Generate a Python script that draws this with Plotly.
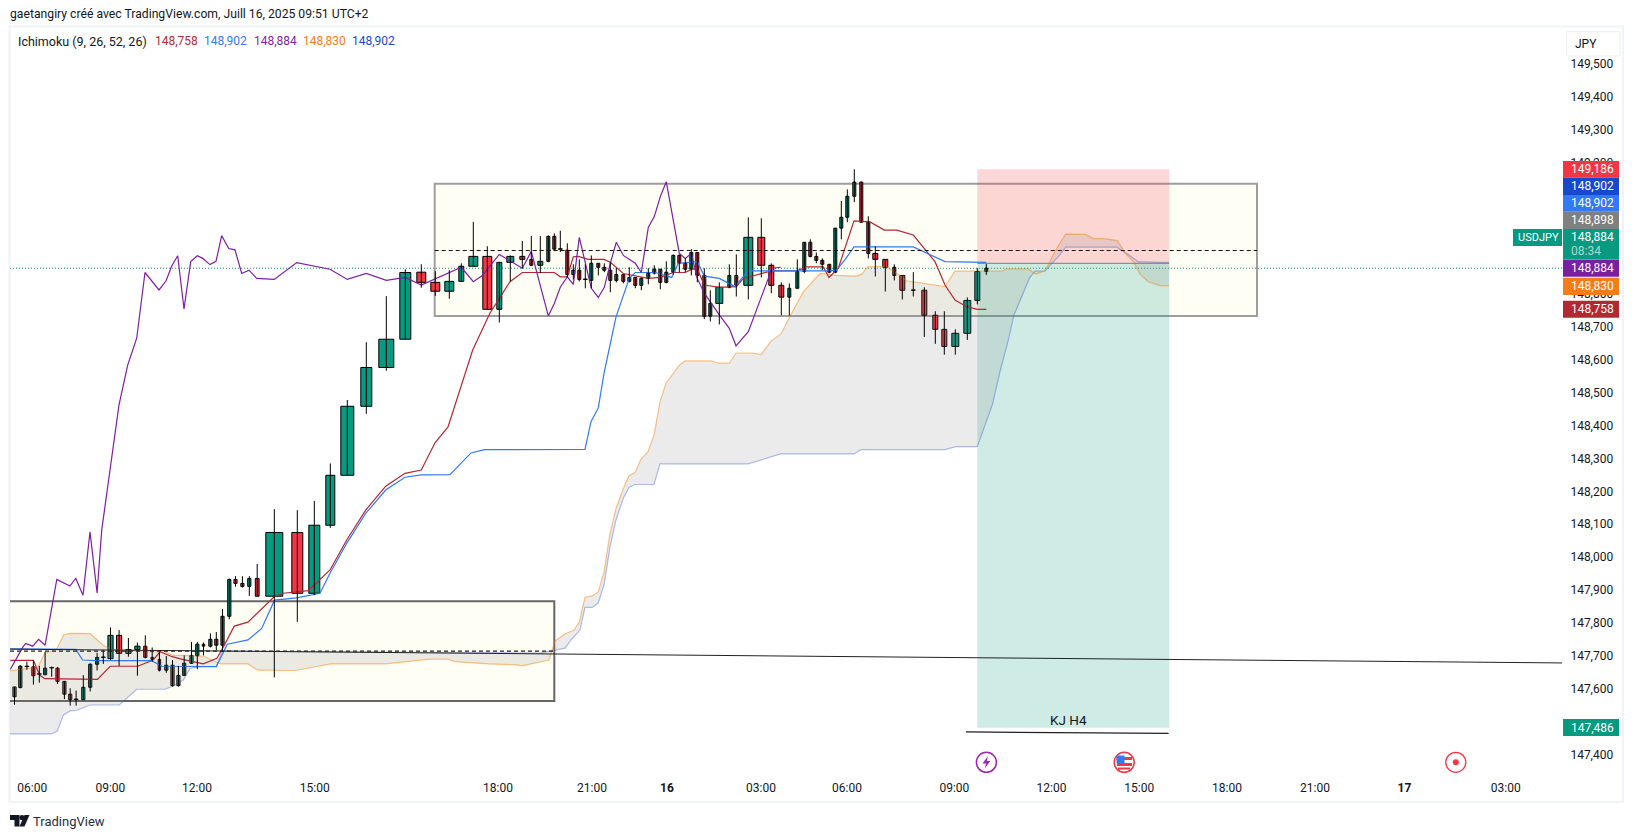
import plotly.graph_objects as go

FONT = 'Roboto'
GREEN = '#089981'
RED = '#f23645'

# 149,100 to 148,900 and 147,500 sit under the price tags in the picture, so they are left out
price_ticks = [149.5, 149.4, 149.3, 149.2, 148.8, 148.7, 148.6, 148.5, 148.4,
               148.3, 148.2, 148.1, 148.0, 147.9, 147.8, 147.7, 147.6, 147.4]
price_labels = ['149,500', '149,400', '149,300', '149,200', '148,800',
                '148,700', '148,600', '148,500', '148,400', '148,300', '148,200', '148,100', '148,000',
                '147,900', '147,800', '147,700', '147,600', '147,400']
time_ticks = [32.3, 110.4, 197, 314.7, 498, 592, 667, 761, 847, 954.4, 1051.5, 1139.3, 1227, 1315, 1404.5, 1505.7]
time_labels = ['06:00', '09:00', '12:00', '15:00', '18:00', '21:00', '<b>16</b>', '03:00', '06:00', '09:00',
               '12:00', '15:00', '18:00', '21:00', '<b>17</b>', '03:00']

# volume candles, so every bar has its own position and width
candle_x = [14.5, 20.3, 26.9, 33.4, 39.3, 45.1, 51.7, 57.5, 64.4, 70.2,
            76.1, 83.3, 90.2, 97.1, 103.3, 110.5, 119.1, 128.4, 137.4, 145.3,
            152.2, 159.4, 166.3, 172.5, 178.4, 184.2, 191.5, 197.3, 203.5, 210.4,
            216.3, 222.5, 229.3, 235.5, 242.4, 249.3, 257.2,
            274.3, 297.3, 314.3, 330.3, 347.3, 366.3, 386.3, 405.3, 421.3, 435.3,
            449.3, 461.3, 473.3, 487.3, 499.3, 510.3, 522.3, 531.3, 540.3, 548.3,
            554.3, 560.3, 567.3, 573.3, 579.3, 585.3, 591.3, 598.3, 604.3, 610.3,
            616.3, 623.3, 629.3, 635.3, 641.3, 648.3, 654.3, 660.3, 666.3, 673.3,
            679.3, 685.3, 691.3, 697.3, 704.3, 710.3, 719.3, 729.3, 736.3, 748.3,
            761.3, 771.3, 781.3, 789.3, 797.3, 804.3, 810.3, 816.3, 822.3, 829.3,
            835.3, 841.3, 847.3, 854.3, 861.3, 868.3, 875.3, 885.3, 894.3, 902.3,
            913.3, 924.3, 935.3, 944.3, 955.3, 967.3, 977.3, 986.3]
candle_w = [3.2, 3.2, 4, 3.2, 4, 3.2, 4, 3.2, 3.2, 3.2,
            4, 3.2, 3.2, 3.2, 4, 5.2, 5.2, 5.2, 5.2, 3.2,
            2.5, 2.5, 3.2, 3.2, 3.2, 3.2, 3.2, 3.2, 2.5, 3.2,
            3.2, 3.2, 3.2, 3.2, 3.2, 3.2, 3.8,
            17, 11, 11, 9, 13, 11, 15, 11, 9, 9,
            9, 5, 9, 9, 5, 7, 5, 3, 5, 3,
            3, 4, 3, 3, 3, 4, 3, 3, 3, 3,
            3, 3, 3, 3, 3, 3, 3, 3, 3, 3,
            3, 3, 3, 3, 3, 3, 7, 3, 3, 9,
            7, 5, 5, 3, 3, 3, 3, 3, 3, 3,
            3, 3, 3, 3, 3, 3, 5, 5, 3, 5,
            4, 5, 5, 5, 7, 7, 5, 3]
candle_open = [147.575, 147.603, 147.667, 147.666, 147.644, 147.642, 147.663, 147.662, 147.622, 147.583,
               147.567, 147.566, 147.604, 147.674, 147.695, 147.691, 147.762, 147.707, 147.719, 147.729,
               147.695, 147.689, 147.656, 147.671, 147.609, 147.640, 147.677, 147.700, 147.735, 147.729,
               147.750, 147.732, 147.820, 147.932, 147.920, 147.911, 147.935,
               147.881, 148.075, 147.890, 148.097, 148.249, 148.459, 148.577, 148.663, 148.867, 148.836,
               148.809, 148.839, 148.885, 148.915, 148.754, 148.897, 148.915, 148.906, 148.888, 148.900,
               148.976, 148.937, 148.934, 148.860, 148.873, 148.845, 148.842, 148.894, 148.882, 148.873,
               148.842, 148.860, 148.839, 148.851, 148.827, 148.848, 148.864, 148.876, 148.836, 148.867,
               148.918, 148.894, 148.876, 148.927, 148.857, 148.733, 148.772, 148.821, 148.857, 148.827,
               148.973, 148.888, 148.827, 148.791, 148.818, 148.869, 148.958, 148.915, 148.903, 148.891,
               148.867, 149.001, 149.034, 149.098, 149.141, 149.019, 148.924, 148.906, 148.882, 148.857,
               148.812, 148.812, 148.736, 148.693, 148.641, 148.681, 148.781, 148.869]
candle_high = [147.605, 147.672, 147.682, 147.685, 147.669, 147.712, 147.667, 147.666, 147.622, 147.601,
               147.594, 147.641, 147.677, 147.709, 147.717, 147.786, 147.778, 147.754, 147.740, 147.762,
               147.725, 147.711, 147.699, 147.687, 147.669, 147.701, 147.742, 147.742, 147.740, 147.768,
               147.772, 147.842, 147.935, 147.942, 147.942, 147.942, 147.979,
               148.146, 148.143, 148.171, 148.285, 148.478, 148.654, 148.794, 148.876, 148.891, 148.870,
               148.873, 148.894, 149.020, 148.946, 148.897, 148.918, 148.962, 148.977, 148.977, 148.979,
               148.985, 148.993, 148.955, 148.891, 148.906, 148.891, 148.918, 148.894, 148.894, 148.897,
               148.879, 148.860, 148.882, 148.851, 148.851, 148.879, 148.888, 148.876, 148.900, 148.921,
               148.921, 148.909, 148.937, 148.927, 148.879, 148.812, 148.836, 148.891, 148.921, 149.034,
               149.031, 148.894, 148.836, 148.833, 148.906, 148.958, 148.967, 148.927, 148.909, 148.891,
               149.001, 149.084, 149.119, 149.180, 149.143, 149.037, 148.946, 148.906, 148.891, 148.857,
               148.867, 148.821, 148.748, 148.748, 148.693, 148.790, 148.879, 148.892]
candle_low = [147.551, 147.601, 147.657, 147.612, 147.618, 147.642, 147.636, 147.614, 147.568, 147.548,
              147.548, 147.566, 147.591, 147.655, 147.675, 147.687, 147.669, 147.697, 147.639, 147.692,
              147.682, 147.652, 147.648, 147.606, 147.606, 147.640, 147.675, 147.659, 147.701, 147.725,
              147.717, 147.712, 147.811, 147.910, 147.907, 147.882, 147.881,
              147.634, 147.803, 147.884, 148.089, 148.249, 148.436, 148.567, 148.663, 148.820, 148.795,
              148.786, 148.839, 148.885, 148.754, 148.714, 148.839, 148.879, 148.888, 148.864, 148.897,
              148.931, 148.928, 148.851, 148.845, 148.839, 148.818, 148.818, 148.857, 148.867, 148.806,
              148.836, 148.833, 148.836, 148.818, 148.812, 148.830, 148.860, 148.815, 148.833, 148.860,
              148.867, 148.867, 148.857, 148.836, 148.724, 148.717, 148.708, 148.818, 148.793, 148.784,
              148.851, 148.803, 148.736, 148.735, 148.818, 148.864, 148.912, 148.894, 148.873, 148.864,
              148.864, 148.967, 149.019, 149.080, 149.019, 148.909, 148.854, 148.808, 148.842, 148.784,
              148.793, 148.670, 148.649, 148.616, 148.616, 148.661, 148.769, 148.859]
candle_close = [147.605, 147.668, 147.668, 147.639, 147.645, 147.662, 147.664, 147.622, 147.583, 147.566,
                147.568, 147.604, 147.674, 147.695, 147.696, 147.762, 147.707, 147.719, 147.729, 147.695,
                147.689, 147.656, 147.671, 147.609, 147.640, 147.677, 147.701, 147.735, 147.729, 147.750,
                147.732, 147.820, 147.932, 147.920, 147.911, 147.935, 147.881,
                148.075, 147.890, 148.097, 148.249, 148.459, 148.577, 148.663, 148.866, 148.836, 148.809,
                148.839, 148.885, 148.915, 148.754, 148.897, 148.915, 148.906, 148.888, 148.900, 148.976,
                148.937, 148.938, 148.860, 148.873, 148.845, 148.846, 148.894, 148.882, 148.873, 148.842,
                148.860, 148.839, 148.851, 148.827, 148.848, 148.864, 148.876, 148.836, 148.867, 148.918,
                148.894, 148.876, 148.927, 148.857, 148.733, 148.772, 148.821, 148.857, 148.827, 148.973,
                148.888, 148.827, 148.791, 148.818, 148.869, 148.958, 148.915, 148.903, 148.891, 148.867,
                149.001, 149.034, 149.098, 149.141, 149.019, 148.924, 148.906, 148.882, 148.857, 148.812,
                148.813, 148.736, 148.693, 148.641, 148.681, 148.781, 148.869, 148.879]

tenkan_x = [10.3, 33.4, 39.6, 44.8, 97.5, 110.2, 137.7, 153.2, 160.1, 172.2, 182.5, 203.2, 216.9, 223.8, 234.2, 248,
            274.1, 283.3, 308.3, 330, 346.7, 365.7, 385.7, 405, 421.3, 435, 448, 472.7, 490, 510, 522.3, 554.3, 560.3,
            567.3, 573.3, 578.3, 588.3, 604, 610.3, 623.3, 648.3, 660.3, 673.3, 685.3, 691.7, 697.3, 704.3, 719.3,
            736.3, 743.3, 771.7, 796.7, 806.7, 823.3, 829, 838.3, 854, 870, 884.3, 896.7, 913.3, 935, 945, 955, 966.7,
            977.3, 986.3]
tenkan_y = [147.686, 147.686, 147.641, 147.630, 147.628, 147.668, 147.668, 147.687, 147.712, 147.697, 147.689, 147.675,
            147.692, 147.729, 147.790, 147.802, 147.879, 147.890, 147.898, 147.961, 148.052, 148.143, 148.216, 148.255,
            148.265, 148.348, 148.396, 148.630, 148.743, 148.838, 148.866, 148.866, 148.853, 148.853, 148.914, 148.915,
            148.906, 148.906, 148.897, 148.863, 148.848, 148.851, 148.866, 148.866, 148.876, 148.876, 148.828, 148.821,
            148.823, 148.848, 148.871, 148.871, 148.883, 148.883, 148.851, 148.879, 149.023, 149.020, 148.995, 148.995,
            148.980, 148.899, 148.828, 148.782, 148.762, 148.754, 148.754]

kijun_x = [10.3, 75.8, 82.6, 96.4, 151.5, 161.8, 216.3, 222, 227.3, 248, 261.7, 274.5, 296.7, 320, 330, 346.7, 365.7,
           385.7, 405, 421.3, 450, 471, 484.6, 585, 591, 598.3, 604, 616, 629.3, 635.3, 655.3, 671.7, 678.3, 697.3,
           704.3, 719.3, 735, 741.7, 748.3, 826.7, 836.7, 846.7, 854, 913.3, 935, 945, 986.3]
kijun_y = [147.721, 147.719, 147.687, 147.685, 147.685, 147.668, 147.667, 147.702, 147.735, 147.748, 147.783, 147.869,
           147.876, 147.890, 147.951, 148.042, 148.133, 148.204, 148.243, 148.250, 148.251, 148.317, 148.327, 148.328,
           148.412, 148.454, 148.559, 148.731, 148.848, 148.866, 148.866, 148.851, 148.894, 148.899, 148.855, 148.848,
           148.823, 148.848, 148.871, 148.871, 148.873, 148.912, 148.944, 148.944, 148.914, 148.899, 148.897]

chikou_x = [10.3, 23.4, 25.8, 32.7, 38.6, 45.1, 56.8, 69.9, 75.8, 83, 90, 97.1, 101.7, 119, 127.7, 136.7, 145, 159, 166,
            171.7, 177.7, 184, 190.7, 197.3, 202.7, 210, 216, 221.7, 228.7, 235, 241.7, 249, 256.7, 274.3, 296.7, 330,
            347.3, 366.3, 386.3, 405.3, 421.3, 461.3, 473.3, 482.3, 499.3, 522.3, 531.3, 548.3, 554.3, 560.3, 567.3,
            573.3, 579.3, 591.3, 598.3, 604.3, 610.3, 616.3, 623.3, 635.3, 641.3, 648.3, 654.3, 660.3, 666.3, 679.3,
            685.3, 691.3, 697.3, 704.3, 719.3, 729.3, 736, 748.3, 768.3, 771.7, 780.7]
chikou_y = [147.658, 147.729, 147.737, 147.729, 147.750, 147.732, 147.932, 147.912, 147.935, 147.884, 148.077, 147.891,
            148.082, 148.463, 148.584, 148.666, 148.866, 148.813, 148.840, 148.886, 148.917, 148.755, 148.899, 148.917,
            148.909, 148.890, 148.900, 148.978, 148.939, 148.935, 148.863, 148.873, 148.848, 148.845, 148.896, 148.876,
            148.845, 148.863, 148.842, 148.851, 148.828, 148.882, 148.838, 148.857, 148.921, 148.879, 148.930, 148.734,
            148.772, 148.821, 148.853, 148.830, 148.973, 148.818, 148.790, 148.821, 148.894, 148.958, 148.918, 148.894,
            148.866, 149.003, 149.036, 149.097, 149.142, 148.924, 148.909, 148.924, 148.848, 148.803, 148.737, 148.696,
            148.643, 148.686, 148.848, 148.879, 148.882]

span_a_x = [10.3, 37.9, 44.8, 56.8, 63.7, 69.9, 90.2, 103.3, 111.9, 151.5, 165.3, 172.2, 203.2, 220.4, 247.9, 257.6,
            296.1, 316.8, 330.6, 385.7, 427, 447.7, 454.5, 489, 516.5, 521.7, 540, 549, 555, 565, 574, 579.3, 585,
            592.3, 598.3, 604, 610, 616, 623.3, 629, 635, 641, 647.7, 654, 660, 666, 679.3, 685, 711, 719, 729.3, 736,
            751.7, 761, 771.3, 781, 790, 803.3, 820, 828.3, 835, 856.7, 861.7, 867.7, 886.7, 896.7, 906.7, 945, 955,
            1001.7, 1006.7, 1028.3, 1036, 1045, 1056.7, 1065.7, 1085, 1094, 1103.3, 1117.3, 1125, 1133.3, 1140, 1148.3,
            1160, 1169]
span_a_y = [147.654, 147.666, 147.707, 147.721, 147.763, 147.768, 147.767, 147.731, 147.719, 147.712, 147.712, 147.702,
            147.699, 147.675, 147.675, 147.656, 147.655, 147.666, 147.675, 147.675, 147.689, 147.690, 147.682, 147.675,
            147.672, 147.669, 147.680, 147.687, 147.745, 147.766, 147.778, 147.803, 147.878, 147.882, 147.895, 147.955,
            148.072, 148.148, 148.209, 148.248, 148.257, 148.298, 148.319, 148.371, 148.473, 148.529, 148.584, 148.597,
            148.597, 148.590, 148.590, 148.621, 148.621, 148.616, 148.658, 148.679, 148.733, 148.807, 148.863, 148.861,
            148.857, 148.855, 148.861, 148.883, 148.885, 148.863, 148.841, 148.823, 148.870, 148.870, 148.877, 148.877,
            148.861, 148.871, 148.939, 148.983, 148.982, 148.969, 148.969, 148.963, 148.926, 148.899, 148.861, 148.838,
            148.826, 148.825]

span_b_x = [10, 51.7, 57.3, 63.3, 70, 76.7, 90, 119.3, 136.7, 165, 173.3, 183.3, 190, 198.3, 216.7, 222, 540, 565, 571,
            580, 585, 592.3, 598.3, 604, 610, 616, 623.3, 629, 635, 654, 660, 748.3, 780.7, 854, 861, 945, 955.7, 977.3,
            992.3, 1000, 1008.3, 1014, 1029.3, 1035, 1045, 1058.3, 1065.7, 1116.7, 1126.7, 1138.3, 1160, 1169]
span_b_y = [147.462, 147.462, 147.471, 147.519, 147.532, 147.534, 147.550, 147.550, 147.598, 147.598, 147.608, 147.626,
            147.661, 147.666, 147.668, 147.714, 147.708, 147.723, 147.748, 147.778, 147.847, 147.847, 147.861, 147.915,
            148.031, 148.113, 148.179, 148.212, 148.221, 148.221, 148.284, 148.284, 148.314, 148.314, 148.327, 148.327,
            148.336, 148.336, 148.463, 148.564, 148.660, 148.737, 148.848, 148.870, 148.871, 148.914, 148.943, 148.943,
            148.924, 148.899, 148.897, 148.897]

indicator_values = ['148,758', '148,902', '148,884', '148,830', '148,902']
indicator_colors = ['#b22833', '#3179f5', '#7e1fa5', '#f57c17', '#1848cc']
indicator_pos = [155, 204, 254, 303, 352]

# pixel helpers for everything that sits outside the price scale
PLOT_L, PLOT_R, PLOT_T, PLOT_B = 10, 1562, 27, 776


def px(x):
    return (x - PLOT_L) / (PLOT_R - PLOT_L)


def py(y):
    return (PLOT_B - y) / (PLOT_B - PLOT_T)


annotations = []
shapes = []


def label(x, y, text, color='#131722', size=12, anchor='left'):
    # annotations carry a small padding of their own
    xshift = -2.5 if anchor == 'left' else 0
    annotations.append(dict(x=px(x), y=py(y), xref='paper', yref='paper', text=text, showarrow=False,
                            xanchor=anchor, yanchor='middle', xshift=xshift,
                            font=dict(family=FONT, size=size, color=color)))


def rect(x0, y0, x1, y1, fill, line='rgba(0,0,0,0)', width=0, layer='above'):
    shapes.append(dict(type='rect', xref='paper', yref='paper', x0=px(x0), x1=px(x1), y0=py(y0), y1=py(y1),
                       fillcolor=fill, line=dict(color=line, width=width), layer=layer))


def circle(cx, cy, r, fill, line='rgba(0,0,0,0)', width=0):
    shapes.append(dict(type='circle', xref='paper', yref='paper', x0=px(cx - r), x1=px(cx + r),
                       y0=py(cy + r), y1=py(cy - r), fillcolor=fill, line=dict(color=line, width=width)))


def polygon(points, fill):
    path = 'M ' + ' L '.join(f'{px(a):.5f},{py(b):.5f}' for a, b in points) + ' Z'
    shapes.append(dict(type='path', xref='paper', yref='paper', path=path, fillcolor=fill,
                       line=dict(color=fill, width=0)))


def data_rect(x0, x1, p0, p1, fill, line='rgba(0,0,0,0)', width=0):
    shapes.append(dict(type='rect', xref='x', yref='y', x0=x0, x1=x1, y0=p0, y1=p1, fillcolor=fill,
                       line=dict(color=line, width=width), layer='below'))


def data_line(x0, x1, p0, p1, color, width=1, dash='solid', layer='below'):
    shapes.append(dict(type='line', xref='x', yref='y', x0=x0, x1=x1, y0=p0, y1=p1,
                       line=dict(color=color, width=width, dash=dash), layer=layer))


# drawings on the chart
BOX_FILL = 'rgba(255,236,130,0.08)'
data_rect(0, 554.3, 147.562, 147.866, BOX_FILL, '#666666', 2)
data_rect(434.7, 1257, 148.734, 149.136, BOX_FILL, '#9e9e9e', 2)
data_rect(977.3, 1169.3, 148.894, 149.180, 'rgba(242,54,69,0.2)')
data_rect(977.3, 1169.3, 147.481, 148.894, 'rgba(8,153,129,0.2)')
data_line(977.3, 1169.3, 148.894, 148.894, '#787b86')
data_line(10, 554.3, 147.714, 147.714, '#222222', 1.1, '4px,3px', 'above')
data_line(434.7, 1257, 148.933, 148.933, '#111111', 1.1, '4px,3px', 'above')
data_line(10, 1562, 147.720, 147.678, '#222222', 1, layer='above')
data_line(966, 1168.6, 147.468, 147.464, '#222222', 1.2, layer='above')
data_line(10, 1562, 148.879, 148.879, GREEN, 1, '1px,2px')

fig = go.Figure()

fig.add_trace(go.Scatter(x=span_b_x, y=span_b_y, mode='lines', line=dict(color='rgba(59,95,207,0.4)', width=1.2)))
fig.add_trace(go.Scatter(x=span_a_x, y=span_a_y, mode='lines', line=dict(color='rgba(245,124,0,0.45)', width=1.2),
                         fill='tonexty', fillcolor='rgba(130,130,130,0.16)'))
fig.add_trace(go.Scatter(x=tenkan_x, y=tenkan_y, mode='lines', line=dict(color='#b22833', width=1.2)))
fig.add_trace(go.Scatter(x=kijun_x, y=kijun_y, mode='lines', line=dict(color='#3179f5', width=1.2)))
fig.add_trace(go.Scatter(x=chikou_x, y=chikou_y, mode='lines', line=dict(color='#7e1fa5', width=1.2)))

wick_x = []
wick_y = []
for i in range(len(candle_x)):
    wick_x += [candle_x[i], candle_x[i], None]
    wick_y += [candle_low[i], candle_high[i], None]
fig.add_trace(go.Scatter(x=wick_x, y=wick_y, mode='lines', line=dict(color='black', width=1)))

fig.add_trace(go.Bar(x=candle_x, width=candle_w,
                     base=[min(o, c) for o, c in zip(candle_open, candle_close)],
                     y=[abs(c - o) for o, c in zip(candle_open, candle_close)],
                     marker=dict(color=[GREEN if c >= o else RED for o, c in zip(candle_open, candle_close)],
                                 line=dict(color='black', width=1))))

# frame and page texts
rect(9.5, 26.5, 1623, 802, 'rgba(0,0,0,0)', '#f0f3fa', 2, 'below')
rect(1566.7, 31.7, 1620, 56, 'white', '#eceef3', 1)
label(1575, 43.5, 'JPY', size=12)
label(10, 14, 'gaetangiry créé avec TradingView.com, Juill 16, 2025 09:51 UTC+2', size=12.2)
label(18, 41, 'Ichimoku (9, 26, 52, 26)', size=12.5)
for pos, val, col in zip(indicator_pos, indicator_values, indicator_colors):
    label(pos, 41, val, color=col, size=12)
label(1068, 720.3, 'KJ H4', anchor='center', size=13.5)
label(33, 821, 'TradingView', size=13, color='#2a2e39')

# price scale tags
tags = [(161, 177.7, '149,186', RED), (177.7, 195, '148,902', '#1848cc'), (195, 211.7, '148,902', '#3179f5'),
        (211.7, 229, '148,898', '#808080'), (260, 276.7, '148,884', '#7b1fa2'), (277.7, 295, '148,830', '#f57c17'),
        (300.7, 317.7, '148,758', '#b22833'), (719, 736, '147,486', GREEN)]
for top, bottom, text, col in tags:
    rect(1563, top, 1619, bottom, col)
    label(1571.5, (top + bottom) / 2, text, color='white')
rect(1563, 229, 1619, 259.7, GREEN)
label(1571.5, 236.7, '148,884', color='white')
label(1571.5, 250.7, '08:34', color='rgba(255,255,255,0.65)')
rect(1513, 229, 1562, 246, GREEN)
label(1518, 237.5, 'USDJPY', color='white', size=11)

# event markers under the candles
circle(986.4, 762.3, 10, 'white', '#9c27b0', 1.5)
polygon([(988, 756), (982.5, 763.5), (986, 763.5), (984.8, 768.5), (990.3, 761), (986.8, 761)], '#9c27b0')
circle(1124.2, 762.3, 10, 'white', RED, 1.5)
rect(1116.5, 757, 1132, 760, RED)
rect(1117, 763, 1132, 766, RED)
rect(1118, 767.5, 1130, 769.5, RED)
rect(1116.5, 755.5, 1124.5, 763, '#3179f5')
circle(1455.8, 762.3, 10, 'white', RED, 1.3)
circle(1455.8, 762.3, 3, RED)

# rough TradingView logo
polygon([(10, 815), (19.5, 815), (19.5, 826.5), (14.5, 826.5), (14.5, 820), (10, 820)], '#131722')
circle(22, 817.6, 2.6, '#131722')
polygon([(24.5, 815), (29.5, 815), (24.5, 826.5), (19.5, 826.5)], '#131722')

fig.update_layout(
    width=1634, height=838,
    margin=dict(l=PLOT_L, r=1634 - PLOT_R, t=PLOT_T, b=838 - PLOT_B, pad=0),
    paper_bgcolor='white', plot_bgcolor='white',
    showlegend=False, barmode='overlay', hovermode=False,
    shapes=shapes, annotations=annotations,
    font=dict(family=FONT, size=12, color='#131722'),
    xaxis=dict(range=[PLOT_L, PLOT_R], tickvals=time_ticks, ticktext=time_labels, showgrid=False, zeroline=False,
               showline=False, ticks='outside', ticklen=1, tickcolor='rgba(0,0,0,0)', tickangle=0),
    yaxis=dict(range=[147.334, 149.613], side='right', tickvals=price_ticks, ticktext=price_labels, showgrid=False,
               zeroline=False, showline=False, ticks='outside', ticklen=5, tickcolor='rgba(0,0,0,0)'),
)

fig.write_html("out.html", config=dict(displayModeBar=False), post_script="document.body.style.margin='0';")
